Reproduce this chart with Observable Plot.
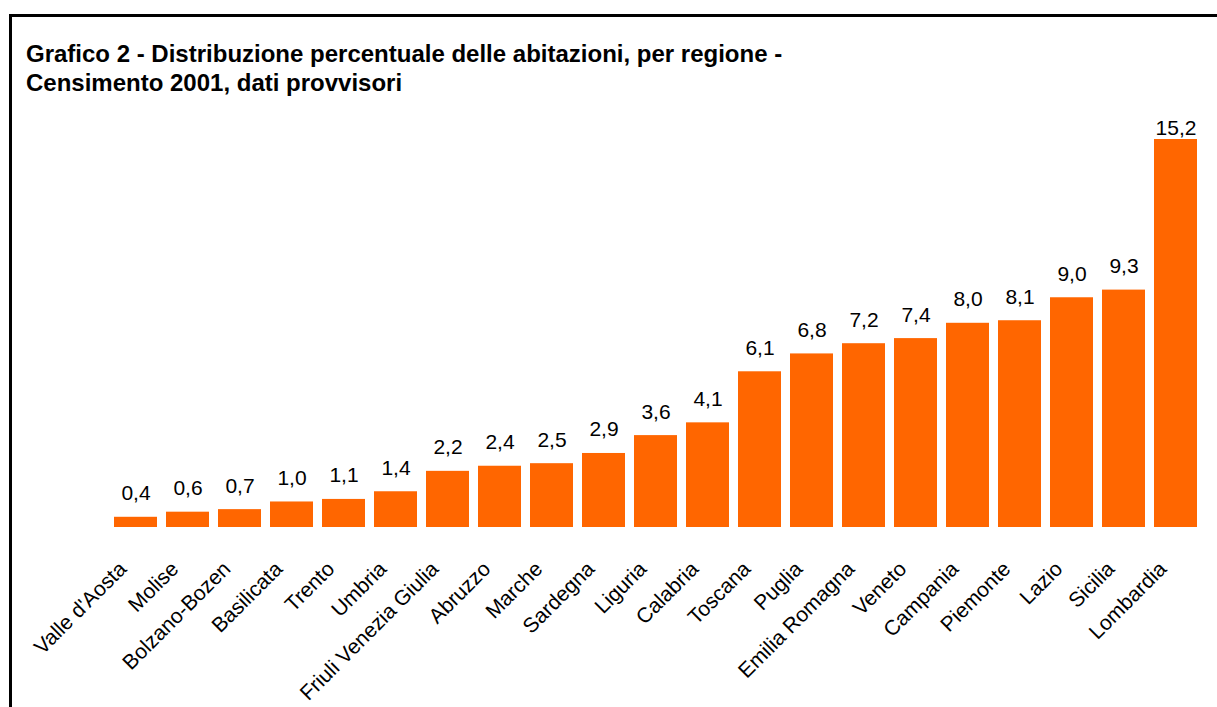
<!DOCTYPE html>
<html>
<head>
<meta charset="utf-8">
<script src="https://cdn.jsdelivr.net/npm/d3@7"></script>
<script src="https://cdn.jsdelivr.net/npm/@observablehq/plot@0.6"></script>
<style>
  html, body { margin: 0; padding: 0; background: #fff; width: 1217px; height: 707px; overflow: hidden; }
  body { position: relative; font-family: "Liberation Sans", Arial, sans-serif; }
  #frame { position: absolute; left: 9px; top: 14px; width: 1300px; height: 800px;
           border-left: 3px solid #000; border-top: 3px solid #000; box-sizing: border-box; }
  #title { position: absolute; left: 26px; top: 39px; font-size: 24px; font-weight: bold;
           line-height: 29px; color: #000; white-space: nowrap; }
  #chart { position: absolute; left: 0; top: 0; }
</style>
</head>
<body>
<div id="frame"></div>
<div id="title">Grafico 2 - Distribuzione percentuale delle abitazioni, per regione -<br>Censimento 2001, dati provvisori</div>
<div id="chart"></div>
<script>
const regions = ["Valle d'Aosta","Molise","Bolzano-Bozen","Basilicata","Trento","Umbria","Friuli Venezia Giulia","Abruzzo","Marche","Sardegna","Liguria","Calabria","Toscana","Puglia","Emilia Romagna","Veneto","Campania","Piemonte","Lazio","Sicilia","Lombardia"];
const values = [0.4,0.6,0.7,1.0,1.1,1.4,2.2,2.4,2.5,2.9,3.6,4.1,6.1,6.8,7.2,7.4,8.0,8.1,9.0,9.3,15.2];

const data = regions.map((r, i) => ({region: r, value: values[i]}));
const maxValue = d3.max(values);
const fmt = v => v.toFixed(1).replace(".", ",");

const chart = Plot.plot({
  width: 1217,
  height: 707,
  marginLeft: 105,
  marginRight: 11,
  marginTop: 139,
  marginBottom: 180,
  style: {fontFamily: "'Liberation Sans', Arial, sans-serif", background: "transparent", overflow: "visible"},
  x: {domain: regions, padding: 0.17, label: null},
  y: {domain: [0, maxValue], axis: null},
  marks: [
    Plot.barY(data, {x: "region", y: "value", fill: "#FF6600"}),
    Plot.text(data.filter(d => d.value < maxValue), {x: "region", y: "value", text: d => fmt(d.value), dy: -17, lineAnchor: "bottom", fontSize: 21, fill: "#000"}),
    Plot.text(data.filter(d => d.value === maxValue), {x: "region", y: "value", text: d => fmt(d.value), dy: -5, lineAnchor: "bottom", fontSize: 21, fill: "#000"}),
    Plot.axisX({tickSize: 0, tickRotate: -45, tickPadding: 38, dx: -13, fontSize: 21, label: null, color: "#000"})
  ]
});
document.getElementById("chart").appendChild(chart);
</script>
</body>
</html>
